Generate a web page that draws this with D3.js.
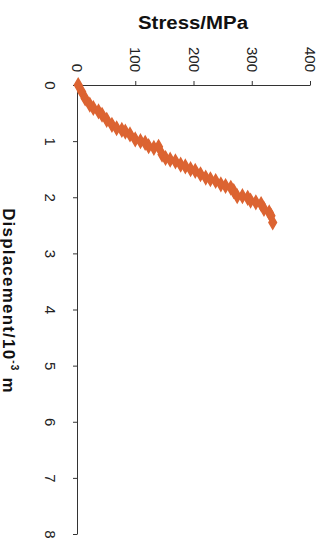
<!DOCTYPE html>
<html>
<head>
<meta charset="utf-8">
<script src="https://cdn.jsdelivr.net/npm/d3@7"></script>
<style>
  body { margin: 0; background: #fff; }
  svg { display: block; font-family: 'Liberation Sans', Arial, sans-serif; }
</style>
</head>
<body>
<div id="chart"></div>
<script>
// displacement (10^-3 m) and stress (MPa)
const displacement = [0, 0.12, 0.24, 0.35, 0.41, 0.47, 0.53, 0.62, 0.71, 0.77, 0.80, 0.83, 0.88, 0.97,
  1.00, 1.03, 1.09, 1.12, 1.10, 1.24, 1.30, 1.33, 1.36, 1.42, 1.45, 1.50, 1.53, 1.59, 1.65, 1.68,
  1.71, 1.77, 1.80, 1.83, 1.89, 1.98, 1.98, 2.01, 2.06, 2.09, 2.12, 2.21, 2.27, 2.33, 2.45];
const stress = [2, 8, 14, 22, 28, 37, 43, 51, 60, 68, 77, 83, 91, 100,
  109, 117, 123, 132, 140, 146, 152, 160, 169, 178, 186, 195, 203, 212, 221, 229,
  238, 247, 255, 264, 269, 275, 284, 293, 298, 307, 316, 321, 330, 333, 336];
const stressTicks = [0, 100, 200, 300, 400];
const dispTicks = [0, 1, 2, 3, 4, 5, 6, 7, 8];

const W = 327, H = 542;
const margin = { top: 85, left: 77, right: 17, bottom: 8 };

const svg = d3.select('#chart').append('svg')
  .attr('width', W)
  .attr('height', H);

// chart is drawn rotated: stress runs left->right along the top, displacement runs down
const x = d3.scaleLinear().domain([0, 400]).range([margin.left, W - margin.right]);
const y = d3.scaleLinear().domain([0, 8]).range([margin.top, H - margin.bottom]);

const axisColor = '#333';

// top axis (stress)
const xAxis = svg.append('g')
  .attr('transform', `translate(0,${margin.top})`)
  .call(d3.axisTop(x).tickValues(stressTicks).tickSize(4).tickSizeOuter(0));
xAxis.select('.domain').attr('stroke', axisColor);
xAxis.selectAll('.tick line').attr('stroke', axisColor);
xAxis.selectAll('.tick text')
  .attr('transform', 'translate(0,-13) rotate(90)')
  .attr('x', 0).attr('y', 0).attr('dy', null)
  .attr('text-anchor', 'end')
  .attr('dominant-baseline', 'central')
  .attr('font-size', '15px')
  .attr('fill', '#222');

// left axis (displacement)
const yAxis = svg.append('g')
  .attr('transform', `translate(${margin.left},0)`)
  .call(d3.axisLeft(y).tickValues(dispTicks).tickSize(4).tickSizeOuter(0));
yAxis.select('.domain').attr('stroke', axisColor);
yAxis.selectAll('.tick line').attr('stroke', axisColor);
yAxis.selectAll('.tick text')
  .attr('transform', 'translate(-27,0) rotate(90)')
  .attr('x', 0).attr('y', 0).attr('dy', null)
  .attr('text-anchor', 'middle')
  .attr('dominant-baseline', 'central')
  .attr('font-size', '15px')
  .attr('fill', '#222');

// axis titles
svg.append('text')
  .attr('x', 193).attr('y', 29)
  .attr('text-anchor', 'middle')
  .attr('font-size', '18px')
  .attr('font-weight', 'bold')
  .attr('textLength', 110)
  .attr('lengthAdjust', 'spacingAndGlyphs')
  .attr('fill', '#111')
  .text('Stress/MPa');

const yTitle = svg.append('text')
  .attr('transform', 'translate(9,301) rotate(90)')
  .attr('text-anchor', 'middle')
  .attr('dominant-baseline', 'central')
  .attr('font-size', '17px')
  .attr('letter-spacing', '1.2px')
  .attr('font-weight', 'bold')
  .attr('fill', '#111');
yTitle.append('tspan').text('Displacement/10');
yTitle.append('tspan').attr('font-size', '10px').attr('dy', '-6').text('-3');
yTitle.append('tspan').attr('dy', '6').text(' m');

// data markers
const pts = displacement.map((d, i) => ({ d: d, s: stress[i] }));
svg.append('g').selectAll('path')
  .data(pts)
  .enter()
  .append('path')
  .attr('d', d3.symbol().type(d3.symbolDiamond).size(50))
  .attr('transform', p => `translate(${x(p.s)},${y(p.d)})`)
  .attr('fill', '#dc6432')
  .attr('stroke', '#dc6432')
  .attr('stroke-width', 1.5);
</script>
</body>
</html>
